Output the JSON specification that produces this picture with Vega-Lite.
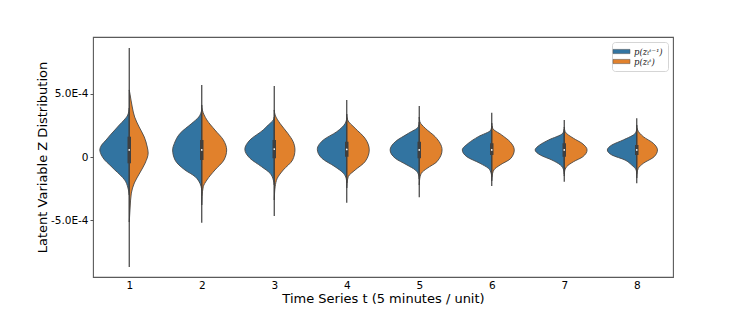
{
  "$schema": "https://vega.github.io/schema/vega-lite/v6.json",
  "width": 580,
  "height": 240,
  "autosize": "none",
  "padding": {"left": 93, "top": 37, "right": 74, "bottom": 35},
  "background": "white",
  "config": {
    "view": {"stroke": "#5a5a5a", "strokeWidth": 1.1},
    "font": "DejaVu Sans",
    "axis": {"grid": false, "domain": false, "labelColor": "black", "titleColor": "black", "titleFontWeight": "normal", "tickColor": "#555"},
    "axisY": {"titleFontSize": 13, "titlePadding": 1,
      "labelExpr": "abs(datum.value) < 1e-9 ? '0' : (abs(abs(datum.value) - 0.0005) < 1e-9 ? (datum.value > 0 ? '5.0E-4' : '-5.0E-4') : '')",
      "labelFontSize": 10.5, "tickSize": 3, "labelPadding": 2, "labelOverlap": false},
    "axisX": {"titleFontSize": 13, "titlePadding": 2, "ticks": false, "labelFontSize": 10.5, "labelPadding": 3, "labelFlush": false, "labelOverlap": false,
      "labelExpr": "abs(datum.value - round(datum.value)) < 1e-9 ? format(datum.value, 'd') : ''"}
  },
  "datasets": {
    "violin": [
      {"t":1,"s":"prev","z":3.89e-4,"d":0},{"t":1,"s":"prev","z":3.33e-4,"d":0.05},{"t":1,"s":"prev","z":2.94e-4,"d":0.17},{"t":1,"s":"prev","z":2.54e-4,"d":0.33},{"t":1,"s":"prev","z":2.14e-4,"d":0.48},{"t":1,"s":"prev","z":1.75e-4,"d":0.63},{"t":1,"s":"prev","z":1.35e-4,"d":0.77},{"t":1,"s":"prev","z":0.95e-4,"d":0.92},{"t":1,"s":"prev","z":0.56e-4,"d":0.98},{"t":1,"s":"prev","z":0.16e-4,"d":0.93},{"t":1,"s":"prev","z":-0.24e-4,"d":0.82},{"t":1,"s":"prev","z":-0.63e-4,"d":0.65},{"t":1,"s":"prev","z":-1.03e-4,"d":0.48},{"t":1,"s":"prev","z":-1.43e-4,"d":0.30},{"t":1,"s":"prev","z":-1.83e-4,"d":0.15},{"t":1,"s":"prev","z":-2.38e-4,"d":0.05},{"t":1,"s":"prev","z":-3.02e-4,"d":0},
      {"t":1,"s":"curr","z":5.32e-4,"d":0},{"t":1,"s":"curr","z":4.92e-4,"d":0.03},{"t":1,"s":"curr","z":3.97e-4,"d":0.10},{"t":1,"s":"curr","z":3.17e-4,"d":0.18},{"t":1,"s":"curr","z":2.38e-4,"d":0.33},{"t":1,"s":"curr","z":1.59e-4,"d":0.50},{"t":1,"s":"curr","z":0.79e-4,"d":0.60},{"t":1,"s":"curr","z":0.32e-4,"d":0.63},{"t":1,"s":"curr","z":-0.48e-4,"d":0.53},{"t":1,"s":"curr","z":-1.27e-4,"d":0.35},{"t":1,"s":"curr","z":-2.06e-4,"d":0.17},{"t":1,"s":"curr","z":-2.86e-4,"d":0.07},{"t":1,"s":"curr","z":-3.97e-4,"d":0.03},{"t":1,"s":"curr","z":-5.16e-4,"d":0},
      {"t":2,"s":"prev","z":3.73e-4,"d":0},{"t":2,"s":"prev","z":3.17e-4,"d":0.1},{"t":2,"s":"prev","z":2.67e-4,"d":0.33},{"t":2,"s":"prev","z":1.88e-4,"d":0.72},{"t":2,"s":"prev","z":1.09e-4,"d":0.91},{"t":2,"s":"prev","z":0.56e-4,"d":0.97},{"t":2,"s":"prev","z":-0.24e-4,"d":0.89},{"t":2,"s":"prev","z":-1.03e-4,"d":0.56},{"t":2,"s":"prev","z":-1.56e-4,"d":0.22},{"t":2,"s":"prev","z":-2.09e-4,"d":0.06},{"t":2,"s":"prev","z":-2.62e-4,"d":0},
      {"t":2,"s":"curr","z":4.13e-4,"d":0},{"t":2,"s":"curr","z":3.73e-4,"d":0.02},{"t":2,"s":"curr","z":2.94e-4,"d":0.17},{"t":2,"s":"curr","z":2.14e-4,"d":0.44},{"t":2,"s":"curr","z":1.35e-4,"d":0.72},{"t":2,"s":"curr","z":0.56e-4,"d":0.83},{"t":2,"s":"curr","z":-0.24e-4,"d":0.74},{"t":2,"s":"curr","z":-1.03e-4,"d":0.44},{"t":2,"s":"curr","z":-1.83e-4,"d":0.17},{"t":2,"s":"curr","z":-2.36e-4,"d":0.05},{"t":2,"s":"curr","z":-3.15e-4,"d":0.01},{"t":2,"s":"curr","z":-3.81e-4,"d":0},
      {"t":3,"s":"prev","z":3.17e-4,"d":0},{"t":3,"s":"prev","z":2.94e-4,"d":0.03},{"t":3,"s":"prev","z":2.54e-4,"d":0.2},{"t":3,"s":"prev","z":2.14e-4,"d":0.37},{"t":3,"s":"prev","z":1.35e-4,"d":0.81},{"t":3,"s":"prev","z":0.61e-4,"d":0.98},{"t":3,"s":"prev","z":-0.10e-4,"d":0.81},{"t":3,"s":"prev","z":-0.77e-4,"d":0.42},{"t":3,"s":"prev","z":-1.29e-4,"d":0.14},{"t":3,"s":"prev","z":-1.83e-4,"d":0.03},{"t":3,"s":"prev","z":-2.22e-4,"d":0},
      {"t":3,"s":"curr","z":3.73e-4,"d":0},{"t":3,"s":"curr","z":3.33e-4,"d":0.03},{"t":3,"s":"curr","z":2.67e-4,"d":0.19},{"t":3,"s":"curr","z":1.88e-4,"d":0.45},{"t":3,"s":"curr","z":1.21e-4,"d":0.63},{"t":3,"s":"curr","z":0.56e-4,"d":0.69},{"t":3,"s":"curr","z":-0.24e-4,"d":0.61},{"t":3,"s":"curr","z":-1.03e-4,"d":0.30},{"t":3,"s":"curr","z":-1.69e-4,"d":0.10},{"t":3,"s":"curr","z":-2.36e-4,"d":0.03},{"t":3,"s":"curr","z":-2.86e-4,"d":0.01},{"t":3,"s":"curr","z":-3.41e-4,"d":0},
      {"t":4,"s":"prev","z":3.10e-4,"d":0},{"t":4,"s":"prev","z":2.67e-4,"d":0.05},{"t":4,"s":"prev","z":2.01e-4,"d":0.33},{"t":4,"s":"prev","z":1.35e-4,"d":0.78},{"t":4,"s":"prev","z":0.61e-4,"d":0.98},{"t":4,"s":"prev","z":-0.10e-4,"d":0.83},{"t":4,"s":"prev","z":-0.77e-4,"d":0.39},{"t":4,"s":"prev","z":-1.29e-4,"d":0.11},{"t":4,"s":"prev","z":-1.69e-4,"d":0.02},{"t":4,"s":"prev","z":-2.06e-4,"d":0},
      {"t":4,"s":"curr","z":3.41e-4,"d":0},{"t":4,"s":"curr","z":2.94e-4,"d":0.03},{"t":4,"s":"curr","z":2.28e-4,"d":0.28},{"t":4,"s":"curr","z":1.48e-4,"d":0.61},{"t":4,"s":"curr","z":0.56e-4,"d":0.75},{"t":4,"s":"curr","z":-0.37e-4,"d":0.61},{"t":4,"s":"curr","z":-1.03e-4,"d":0.28},{"t":4,"s":"curr","z":-1.56e-4,"d":0.05},{"t":4,"s":"curr","z":-2.09e-4,"d":0.01},{"t":4,"s":"curr","z":-2.46e-4,"d":0},
      {"t":5,"s":"prev","z":2.78e-4,"d":0},{"t":5,"s":"prev","z":2.40e-4,"d":0.03},{"t":5,"s":"prev","z":1.88e-4,"d":0.36},{"t":5,"s":"prev","z":1.21e-4,"d":0.8},{"t":5,"s":"prev","z":0.56e-4,"d":0.97},{"t":5,"s":"prev","z":-0.10e-4,"d":0.8},{"t":5,"s":"prev","z":-0.63e-4,"d":0.41},{"t":5,"s":"prev","z":-1.03e-4,"d":0.13},{"t":5,"s":"prev","z":-1.43e-4,"d":0.02},{"t":5,"s":"prev","z":-1.75e-4,"d":0},
      {"t":5,"s":"curr","z":3.17e-4,"d":0},{"t":5,"s":"curr","z":2.80e-4,"d":0.02},{"t":5,"s":"curr","z":2.28e-4,"d":0.2},{"t":5,"s":"curr","z":1.61e-4,"d":0.53},{"t":5,"s":"curr","z":0.56e-4,"d":0.76},{"t":5,"s":"curr","z":-0.37e-4,"d":0.59},{"t":5,"s":"curr","z":-0.90e-4,"d":0.26},{"t":5,"s":"curr","z":-1.29e-4,"d":0.07},{"t":5,"s":"curr","z":-1.83e-4,"d":0.01},{"t":5,"s":"curr","z":-2.22e-4,"d":0},
      {"t":6,"s":"prev","z":2.46e-4,"d":0},{"t":6,"s":"prev","z":2.14e-4,"d":0.03},{"t":6,"s":"prev","z":1.61e-4,"d":0.45},{"t":6,"s":"prev","z":1.09e-4,"d":0.78},{"t":6,"s":"prev","z":0.56e-4,"d":0.98},{"t":6,"s":"prev","z":0.02e-4,"d":0.83},{"t":6,"s":"prev","z":-0.50e-4,"d":0.39},{"t":6,"s":"prev","z":-0.90e-4,"d":0.11},{"t":6,"s":"prev","z":-1.29e-4,"d":0.02},{"t":6,"s":"prev","z":-1.59e-4,"d":0},
      {"t":6,"s":"curr","z":2.70e-4,"d":0},{"t":6,"s":"curr","z":2.28e-4,"d":0.03},{"t":6,"s":"curr","z":1.75e-4,"d":0.33},{"t":6,"s":"curr","z":1.21e-4,"d":0.61},{"t":6,"s":"curr","z":0.56e-4,"d":0.75},{"t":6,"s":"curr","z":-0.10e-4,"d":0.64},{"t":6,"s":"curr","z":-0.63e-4,"d":0.28},{"t":6,"s":"curr","z":-1.03e-4,"d":0.07},{"t":6,"s":"curr","z":-1.56e-4,"d":0.01},{"t":6,"s":"curr","z":-1.90e-4,"d":0},
      {"t":7,"s":"prev","z":2.22e-4,"d":0},{"t":7,"s":"prev","z":1.88e-4,"d":0.05},{"t":7,"s":"prev","z":1.35e-4,"d":0.52},{"t":7,"s":"prev","z":0.95e-4,"d":0.82},{"t":7,"s":"prev","z":0.56e-4,"d":0.97},{"t":7,"s":"prev","z":0.16e-4,"d":0.8},{"t":7,"s":"prev","z":-0.24e-4,"d":0.41},{"t":7,"s":"prev","z":-0.63e-4,"d":0.13},{"t":7,"s":"prev","z":-1.03e-4,"d":0.02},{"t":7,"s":"prev","z":-1.35e-4,"d":0},
      {"t":7,"s":"curr","z":2.38e-4,"d":0},{"t":7,"s":"curr","z":2.01e-4,"d":0.03},{"t":7,"s":"curr","z":1.48e-4,"d":0.31},{"t":7,"s":"curr","z":1.09e-4,"d":0.59},{"t":7,"s":"curr","z":0.56e-4,"d":0.76},{"t":7,"s":"curr","z":0.02e-4,"d":0.62},{"t":7,"s":"curr","z":-0.37e-4,"d":0.31},{"t":7,"s":"curr","z":-0.77e-4,"d":0.08},{"t":7,"s":"curr","z":-1.17e-4,"d":0.01},{"t":7,"s":"curr","z":-1.51e-4,"d":0},
      {"t":8,"s":"prev","z":2.22e-4,"d":0},{"t":8,"s":"prev","z":1.88e-4,"d":0.05},{"t":8,"s":"prev","z":1.35e-4,"d":0.45},{"t":8,"s":"prev","z":0.95e-4,"d":0.83},{"t":8,"s":"prev","z":0.56e-4,"d":0.98},{"t":8,"s":"prev","z":0.16e-4,"d":0.83},{"t":8,"s":"prev","z":-0.24e-4,"d":0.39},{"t":8,"s":"prev","z":-0.63e-4,"d":0.17},{"t":8,"s":"prev","z":-1.03e-4,"d":0.02},{"t":8,"s":"prev","z":-1.35e-4,"d":0},
      {"t":8,"s":"curr","z":2.54e-4,"d":0},{"t":8,"s":"curr","z":2.14e-4,"d":0.03},{"t":8,"s":"curr","z":1.61e-4,"d":0.22},{"t":8,"s":"curr","z":1.09e-4,"d":0.55},{"t":8,"s":"curr","z":0.56e-4,"d":0.69},{"t":8,"s":"curr","z":0.02e-4,"d":0.58},{"t":8,"s":"curr","z":-0.50e-4,"d":0.22},{"t":8,"s":"curr","z":-0.90e-4,"d":0.05},{"t":8,"s":"curr","z":-1.29e-4,"d":0.01},{"t":8,"s":"curr","z":-1.67e-4,"d":0}
    ],
    "box": [
      {"t":1,"lo":-8.73e-4,"hi":8.65e-4,"q1":-0.50e-4,"q3":1.61e-4,"med":0.56e-4},
      {"t":2,"lo":-5.21e-4,"hi":5.71e-4,"q1":-0.24e-4,"q3":1.35e-4,"med":0.56e-4},
      {"t":3,"lo":-4.68e-4,"hi":5.63e-4,"q1":-0.10e-4,"q3":1.35e-4,"med":0.63e-4},
      {"t":4,"lo":-3.63e-4,"hi":4.52e-4,"q1":0.02e-4,"q3":1.21e-4,"med":0.60e-4},
      {"t":5,"lo":-3.20e-4,"hi":4.05e-4,"q1":-0.10e-4,"q3":1.21e-4,"med":0.56e-4},
      {"t":6,"lo":-2.30e-4,"hi":3.52e-4,"q1":0.16e-4,"q3":1.09e-4,"med":0.56e-4},
      {"t":7,"lo":-1.96e-4,"hi":2.94e-4,"q1":0.02e-4,"q3":1.09e-4,"med":0.56e-4},
      {"t":8,"lo":-2.09e-4,"hi":3.07e-4,"q1":0.16e-4,"q3":0.95e-4,"med":0.56e-4}
    ]
  },
  "layer": [
    {
      "data": {"name": "violin"},
      "transform": [{"calculate": "datum.t + (datum.s == 'prev' ? -1 : 1) * datum.d * 0.414", "as": "xo"}],
      "mark": {"type": "area", "orient": "horizontal", "interpolate": "monotone", "stroke": "#474747", "strokeWidth": 0.9, "opacity": 1},
      "encoding": {
        "y": {"field": "z", "type": "quantitative", "scale": {"domain": [-9.52e-4, 9.52e-4], "nice": false, "zero": false}, "title": "Latent Variable Z Distribution"},
        "x": {"field": "xo", "type": "quantitative", "scale": {"domain": [0.5, 8.5], "nice": false, "zero": false}, "title": "Time Series t (5 minutes / unit)"},
        "x2": {"field": "t"},
        "detail": {"field": "t", "type": "nominal"},
        "color": {"field": "s", "type": "nominal", "scale": {"domain": ["prev", "curr"], "range": ["#3274a1", "#e1812c"]},
          "legend": {"title": null, "orient": "top-right", "offset": 5, "labelExpr": "datum.label == 'prev' ? 'p(zₜᵗ⁻¹)' : 'p(zₜᵗ)'",
            "labelFontSize": 8.5, "labelFontStyle": "italic", "labelFont": "DejaVu Serif", "labelColor": "#222",
            "symbolType": "M-2,-0.5H2V0.5H-2Z", "symbolSize": 72, "symbolStrokeWidth": 0.5, "symbolStrokeColor": "#555", "symbolOpacity": 1,
            "strokeColor": "#d5d5d5", "fillColor": "white", "cornerRadius": 3, "padding": 5, "rowPadding": 1, "labelOffset": 8}}
      }
    },
    {
      "data": {"name": "box"},
      "mark": {"type": "rule", "color": "#3f3f3f", "strokeWidth": 1.2},
      "encoding": {
        "x": {"field": "t", "type": "quantitative", "title": "Time Series t (5 minutes / unit)"},
        "y": {"field": "lo", "type": "quantitative", "title": "Latent Variable Z Distribution"},
        "y2": {"field": "hi"}
      }
    },
    {
      "data": {"name": "box"},
      "mark": {"type": "rule", "color": "#3f3f3f", "strokeWidth": 3.5},
      "encoding": {
        "x": {"field": "t", "type": "quantitative", "title": "Time Series t (5 minutes / unit)"},
        "y": {"field": "q1", "type": "quantitative", "title": "Latent Variable Z Distribution"},
        "y2": {"field": "q3"}
      }
    },
    {
      "data": {"name": "box"},
      "mark": {"type": "point", "filled": true, "color": "white", "size": 3, "opacity": 1},
      "encoding": {
        "x": {"field": "t", "type": "quantitative", "title": "Time Series t (5 minutes / unit)"},
        "y": {"field": "med", "type": "quantitative", "title": "Latent Variable Z Distribution"}
      }
    }
  ]
}
